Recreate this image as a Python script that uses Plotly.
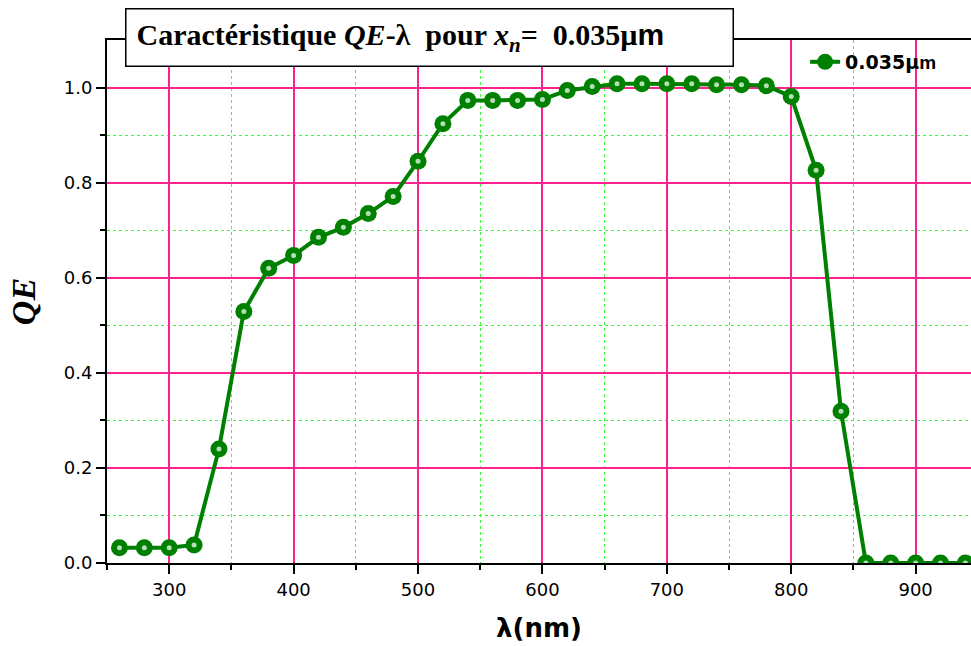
import plotly.graph_objects as go

# Wavelength (nm) and quantum efficiency for x_n = 0.035 µm
wavelength = [260, 280, 300, 320, 340, 360, 380, 400, 420, 440, 460, 480, 500,
              520, 540, 560, 580, 600, 620, 640, 660, 680, 700, 720, 740, 760,
              780, 800, 820, 840, 860, 880, 900, 920, 940]
qe = [0.032, 0.032, 0.032, 0.038, 0.240, 0.529, 0.620, 0.647, 0.685, 0.706,
      0.735, 0.771, 0.845, 0.924, 0.973, 0.973, 0.973, 0.975, 0.994, 1.002,
      1.008, 1.008, 1.008, 1.008, 1.006, 1.006, 1.004, 0.981, 0.826, 0.319,
      0.0, 0.0, 0.0, 0.0, 0.0]
series_name = "<b>0.035µ<span style='font-family:Arial'>m</span></b>"

x_major = [300, 400, 500, 600, 700, 800, 900]
x_minor = [250, 350, 450, 550, 650, 750, 850]
y_major = [0.0, 0.2, 0.4, 0.6, 0.8, 1.0]
y_minor = [0.1, 0.3, 0.5, 0.7, 0.9]

GREEN = "#008000"
MAJOR_GRID = "#ff2090"
MINOR_GRID = "#33ff33"

fig = go.Figure()
fig.add_trace(go.Scatter(
    x=wavelength, y=qe, mode="lines+markers", name=series_name,
    line=dict(color=GREEN, width=4),
    marker=dict(size=17, color=GREEN, line=dict(width=0)),
    cliponaxis=True,
))
# glossy highlight on each bead
fig.add_trace(go.Scatter(
    x=wavelength, y=qe, mode="markers", showlegend=False, hoverinfo="skip",
    marker=dict(size=5, color="#b4deb4", line=dict(width=0)),
    cliponaxis=True,
))

tick_font = dict(family="DejaVu Sans", size=18, color="black")

fig.update_layout(
    width=971, height=646,
    margin=dict(l=107, r=0, t=40, b=83),
    paper_bgcolor="white", plot_bgcolor="white",
    showlegend=True,
    legend=dict(x=0.808, y=0.958, xanchor="left", yanchor="middle",
                bgcolor="rgba(0,0,0,0)", borderwidth=0,
                font=dict(family="DejaVu Sans", size=19, color="black")),
    xaxis=dict(
        range=[250, 944.5], tickmode="array", tickvals=x_major,
        tickfont=tick_font, ticks="outside", ticklen=9, tickwidth=2,
        tickcolor="black",
        showline=True, linecolor="black", linewidth=2, mirror=True,
        showgrid=True, gridcolor=MAJOR_GRID, gridwidth=1.6,
        zeroline=False,
        minor=dict(tickmode="array", tickvals=x_minor, ticks="outside",
                   ticklen=5, tickwidth=2, tickcolor="black", showgrid=True,
                   gridcolor=MINOR_GRID, gridwidth=1, griddash="dot"),
        title=dict(text="<b>λ(nm)</b>", standoff=20,
                   font=dict(family="DejaVu Sans", size=26, color="black")),
    ),
    yaxis=dict(
        range=[0, 1.1], tickmode="array", tickvals=y_major, tickformat=".1f",
        tickfont=tick_font, ticks="outside", ticklen=9, tickwidth=2,
        tickcolor="black",
        showline=True, linecolor="black", linewidth=2, mirror=False,
        showgrid=True, gridcolor=MAJOR_GRID, gridwidth=1.6,
        zeroline=False,
        minor=dict(tickmode="array", tickvals=y_minor, ticks="outside",
                   ticklen=5, tickwidth=2, tickcolor="black", showgrid=True,
                   gridcolor=MINOR_GRID, gridwidth=1, griddash="dot"),
        title=dict(text="<b><i>QE</i></b>", standoff=18,
                   font=dict(family="Liberation Serif", size=34, color="black")),
    ),
)

# Boxed title inside the top of the frame
fig.add_annotation(
    xref="paper", yref="paper", x=0.0208, y=1.061,
    xanchor="left", yanchor="top",
    width=586, height=36, align="left", valign="middle",
    text=("<b>Caractéristique <i>QE</i>-λ  pour <i>x<sub>n</sub></i>=  "
          "0.035µ<span style='font-family:Arial'>m</span></b>"),
    font=dict(family="Liberation Serif", size=30, color="black"),
    showarrow=False, bgcolor="white", bordercolor="black", borderwidth=1.5,
    borderpad=10,
)

fig.write_html("out.html")
